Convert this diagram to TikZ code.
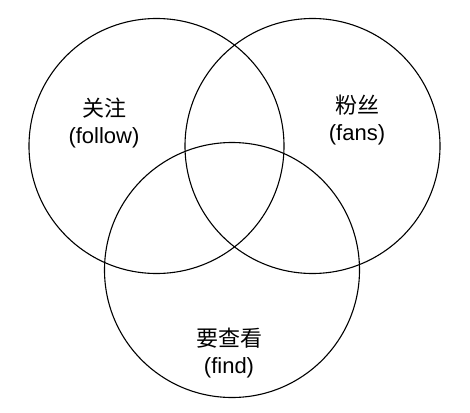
\documentclass[tikz,border=0pt]{standalone}
\usepackage{fontspec}
\setmainfont{Liberation Sans}
\newfontfamily\cjk{Noto Sans CJK SC}
\begin{document}
\begin{tikzpicture}[x=1pt,y=-1pt,
  ring/.style={draw=black,line width=1.1pt,circle,minimum size=255pt,inner sep=0pt},
  lbl/.style={align=center,font=\fontsize{22pt}{27pt}\selectfont,text=black}]
\useasboundingbox[fill=white] (0,0) rectangle (470,412);
\node[ring] (follow) at (156.5,146) {};
\node[ring] (fans) at (312.5,146) {};
\node[ring] (find) at (232,270) {};
\node[lbl] (tfollow) at (104,123) {{\cjk 关注}\\(follow)};
\node[lbl] (tfans) at (357,120) {{\cjk 粉丝}\\(fans)};
\node[lbl] (tfind) at (229,353) {{\cjk 要查看}\\(find)};
\end{tikzpicture}
\end{document}
